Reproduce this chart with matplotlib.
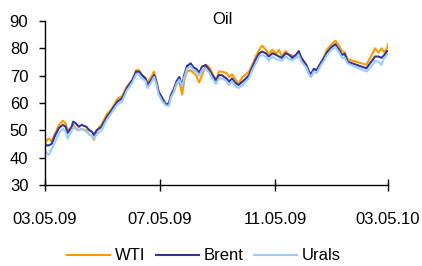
import matplotlib.pyplot as plt
import matplotlib.dates as mdates
import pandas as pd

dates = ["2009-03-05", "2009-03-09", "2009-03-12", "2009-03-16", "2009-03-20", "2009-03-24",
         "2009-03-27", "2009-03-29", "2009-04-02", "2009-04-04", "2009-04-07", "2009-04-10",
         "2009-04-13", "2009-04-18", "2009-04-21", "2009-04-24", "2009-04-26", "2009-04-29",
         "2009-05-04", "2009-05-07", "2009-05-10", "2009-05-14", "2009-05-17", "2009-05-21",
         "2009-05-26", "2009-05-31", "2009-06-06", "2009-06-10", "2009-06-13", "2009-06-16",
         "2009-06-20", "2009-06-22", "2009-06-26", "2009-06-29", "2009-07-01", "2009-07-04",
         "2009-07-08", "2009-07-12", "2009-07-15", "2009-07-17", "2009-07-20", "2009-07-23",
         "2009-07-26", "2009-07-29", "2009-07-31", "2009-08-03", "2009-08-07", "2009-08-10",
         "2009-08-13", "2009-08-16", "2009-08-19", "2009-08-23", "2009-08-27", "2009-08-30",
         "2009-09-03", "2009-09-06", "2009-09-09", "2009-09-14", "2009-09-17", "2009-09-20",
         "2009-09-24", "2009-09-27", "2009-10-01", "2009-10-05", "2009-10-08", "2009-10-11",
         "2009-10-16", "2009-10-19", "2009-10-22", "2009-10-26", "2009-10-29", "2009-11-02",
         "2009-11-06", "2009-11-09", "2009-11-12", "2009-11-16", "2009-11-20", "2009-11-23",
         "2009-11-27", "2009-11-30", "2009-12-03", "2009-12-08", "2009-12-11", "2009-12-13",
         "2009-12-16", "2009-12-19", "2009-12-24", "2009-12-27", "2009-12-30", "2010-01-04",
         "2010-01-08", "2010-01-12", "2010-01-15", "2010-01-18", "2010-01-21", "2010-02-10",
         "2010-02-18", "2010-02-19", "2010-02-23", "2010-02-26", "2010-03-01", "2010-03-04",
         "2010-03-05"]

wti = [45.5, 47, 46, 49, 52, 53.5, 52.5, 50, 51, 52, 50.5, 50,
       50.5, 50, 48.5, 48, 46.5, 50, 52, 54, 56, 57.5, 59, 61.5,
       62.5, 66, 68.5, 72, 72, 70.5, 69, 67.5, 69.5, 71.5, 69, 64,
       61, 59.5, 60, 62.5, 64, 67, 68, 63, 68, 71.5, 72, 71,
       70, 67.5, 70, 74, 73, 71, 68, 71.5, 71.5, 71, 69.5, 70.5,
       68.5, 67, 69.5, 70.5, 71.5, 73.5, 77.5, 79.5, 81, 79.5, 78, 79.5,
       78, 79.5, 77, 79, 77.5, 77.5, 76.5, 77, 76.5, 73.5, 70.5, 69.5,
       71.5, 72, 75, 77, 79.5, 81.5, 82.8, 81, 79, 78.5, 76, 74,
       79, 80, 78.5, 80, 78.5, 80, 81.5]

brent = [44.5, 44.5, 45, 48.3, 50.9, 52, 51.3, 49, 51, 53.2, 52.5, 51.3,
         52, 51.3, 50.1, 49.5, 48.3, 50, 51.3, 53.2, 55, 56.8, 58.5, 60.5,
         61.7, 65.4, 68.4, 71.5, 71.5, 70.2, 69, 66.6, 68.4, 70.2, 68.4, 64.1,
         61.7, 59.3, 60, 62.9, 65, 68, 69.5, 66, 70, 73.5, 74.5, 73,
         72.5, 71, 73.3, 73.9, 72, 70.2, 68.4, 70.2, 70.2, 69, 67.8, 69,
         67.2, 66.6, 67.8, 69, 70.2, 72.7, 76.4, 78.2, 78.8, 78.2, 77, 78.2,
         77.6, 77, 76.5, 78.2, 77.6, 76.5, 77.6, 79, 76.4, 74, 71.5, 70.5,
         72.5, 72, 75, 76.5, 78.5, 80.5, 81.5, 79.5, 77.6, 78, 75.1, 72.7,
         76.4, 77, 77, 76.5, 77.5, 79, 79]

urals = [42.5, 41, 43, 46, 49, 50.5, 49.5, 47, 49.5, 51, 51, 50,
         50.5, 49.5, 48.5, 48, 47, 48.5, 50, 52, 54, 56, 57.5, 59.5,
         60.5, 64.5, 67.5, 70.5, 70.5, 69, 68, 65.5, 67.5, 69.5, 67.5, 63,
         60.5, 59, 59, 62, 64, 67, 68.5, 66, 69, 72.5, 73.5, 72,
         71.5, 70, 72, 72.5, 71, 69, 67, 69, 69, 68, 66.5, 68,
         66, 65.5, 66.5, 68, 69, 71.5, 75, 77, 77.5, 77, 75.5, 77,
         76, 75.8, 75.5, 77, 76, 75.5, 76.5, 77.5, 75, 73, 70.5, 69.5,
         71.5, 71, 74, 75.5, 77.5, 79.5, 80.5, 78.5, 76.5, 76.5, 74.5, 71.5,
         74.5, 75.5, 75, 74, 76.5, 77.5, 78]

tick_dates = ["2009-03-05", "2009-07-05", "2009-11-05", "2010-03-05"]

x = pd.to_datetime(dates)

plt.rcParams['font.family'] = ['Liberation Sans', 'DejaVu Sans']
fs = 12

fig = plt.figure(figsize=(4.22, 2.66), dpi=100)
ax = fig.add_axes([45 / 422, 81 / 266, 343 / 422, 164 / 266])

ax.plot(x, wti, color='#FF9900', lw=1.5, label='WTI')
ax.plot(x, brent, color='#333399', lw=1.5, label='Brent')
ax.plot(x, urals, color='#99CCFF', lw=1.5, label='Urals')

ax.set_ylim(30, 90)
ax.set_yticks(range(30, 91, 10))
ax.set_xlim(pd.Timestamp(tick_dates[0]), pd.Timestamp(tick_dates[-1]))
ax.set_xticks(pd.to_datetime(tick_dates))
ax.xaxis.set_major_formatter(mdates.DateFormatter('%m.%d.%y'))

for s in ['top', 'right']:
    ax.spines[s].set_visible(False)
for s in ['left', 'bottom']:
    ax.spines[s].set_linewidth(1.0)
    ax.spines[s].set_color('black')

ax.tick_params(axis='y', direction='out', length=4, width=1, labelsize=fs, pad=8)
ax.tick_params(axis='x', direction='inout', length=9, width=1, labelsize=fs, pad=15)

fig.text(222 / 422, 1 - 19 / 266, 'Oil', ha='center', va='center', fontsize=fs)

fig.legend(loc='center', bbox_to_anchor=(204 / 422, 1 - 256 / 266), ncol=3, frameon=False,
           fontsize=fs, handlelength=2.6, handletextpad=0.3, columnspacing=0.6,
           borderaxespad=0, borderpad=0)

fig.savefig('out.png', dpi=100)
